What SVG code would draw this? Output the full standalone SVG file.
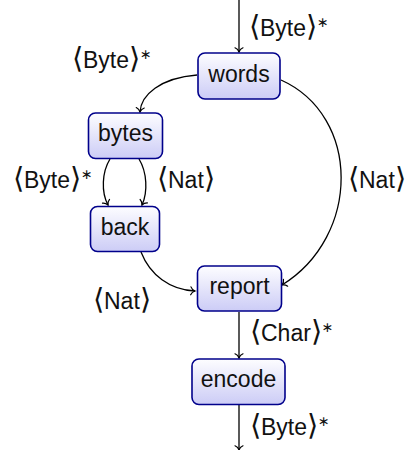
<svg xmlns="http://www.w3.org/2000/svg" width="408" height="450" viewBox="0 0 408 450">
<style>
.box{stroke:#00008b;stroke-width:1.6;fill:url(#g)}
.nt{font-family:"Liberation Sans","DejaVu Sans",sans-serif;font-size:23px;fill:#111;text-anchor:middle}
.lb{font-family:"Liberation Sans","DejaVu Sans",sans-serif;font-size:23px;fill:#111}
.br{font-family:"DejaVu Sans",sans-serif;font-size:29px;font-weight:200}
.sup{font-size:14px}
.e{fill:none;stroke:#000;stroke-width:1.3;marker-end:url(#a)}
</style>
<defs>
<linearGradient id="g" x1="0" y1="0" x2="0" y2="1">
<stop offset="0" stop-color="#fdfdff"/>
<stop offset="1" stop-color="#ccccf6"/>
</linearGradient>
<marker id="a" markerUnits="userSpaceOnUse" markerWidth="12" markerHeight="12" viewBox="-6 -6 12 12" refX="0" refY="0" orient="auto" overflow="visible">
<path d="M-4.2,-4 C-3.2,-1.6 -1.2,-0.4 0,0 C-1.2,0.4 -3.2,1.6 -4.2,4" fill="none" stroke="#000" stroke-width="1.2" stroke-linecap="round"/>
</marker>
</defs>
<g id="connectors">
<path class="e" d="M239,0 L239,52"/>
<path class="e" d="M197,75 C160,78 141,95 140,112"/>
<path class="e" d="M281,80 C361,116 361,236 282,285"/>
<path class="e" d="M110,159 C102,172 101,192 108,205"/>
<path class="e" d="M139,159 C147,172 148,192 142,205"/>
<path class="e" d="M141,252 C150,275 170,290 195,291"/>
<path class="e" d="M239,312 L239,358"/>
<path class="e" d="M239,405 L239,450"/>
</g>
<g id="labels">
<text class="lb" x="249" y="36"><tspan class="br">⟨</tspan>Byte<tspan class="br">⟩</tspan><tspan class="sup" dy="-9">∗</tspan></text>
<text class="lb" x="72" y="68"><tspan class="br">⟨</tspan>Byte<tspan class="br">⟩</tspan><tspan class="sup" dy="-9">∗</tspan></text>
<text class="lb" x="13" y="188"><tspan class="br">⟨</tspan>Byte<tspan class="br">⟩</tspan><tspan class="sup" dy="-9">∗</tspan></text>
<text class="lb" x="157" y="188"><tspan class="br">⟨</tspan>Nat<tspan class="br">⟩</tspan></text>
<text class="lb" x="348" y="188"><tspan class="br">⟨</tspan>Nat<tspan class="br">⟩</tspan></text>
<text class="lb" x="93" y="309"><tspan class="br">⟨</tspan>Nat<tspan class="br">⟩</tspan></text>
<text class="lb" x="250" y="341"><tspan class="br">⟨</tspan>Char<tspan class="br">⟩</tspan><tspan class="sup" dy="-9">∗</tspan></text>
<text class="lb" x="250" y="435"><tspan class="br">⟨</tspan>Byte<tspan class="br">⟩</tspan><tspan class="sup" dy="-9">∗</tspan></text>
</g>
<g id="words"><rect class="box" x="198" y="53" width="82" height="46" rx="7"/><text class="nt" x="239" y="82">words</text></g>
<g id="bytes"><rect class="box" x="88.5" y="113" width="74" height="45.5" rx="7"/><text class="nt" x="125.5" y="141">bytes</text></g>
<g id="back"><rect class="box" x="90.5" y="206.5" width="69" height="45" rx="7"/><text class="nt" x="125" y="235">back</text></g>
<g id="report"><rect class="box" x="197.5" y="266" width="84" height="45" rx="7"/><text class="nt" x="239.5" y="294">report</text></g>
<g id="encode"><rect class="box" x="192" y="359" width="93" height="45.5" rx="7"/><text class="nt" x="238.5" y="387">encode</text></g>
</svg>
